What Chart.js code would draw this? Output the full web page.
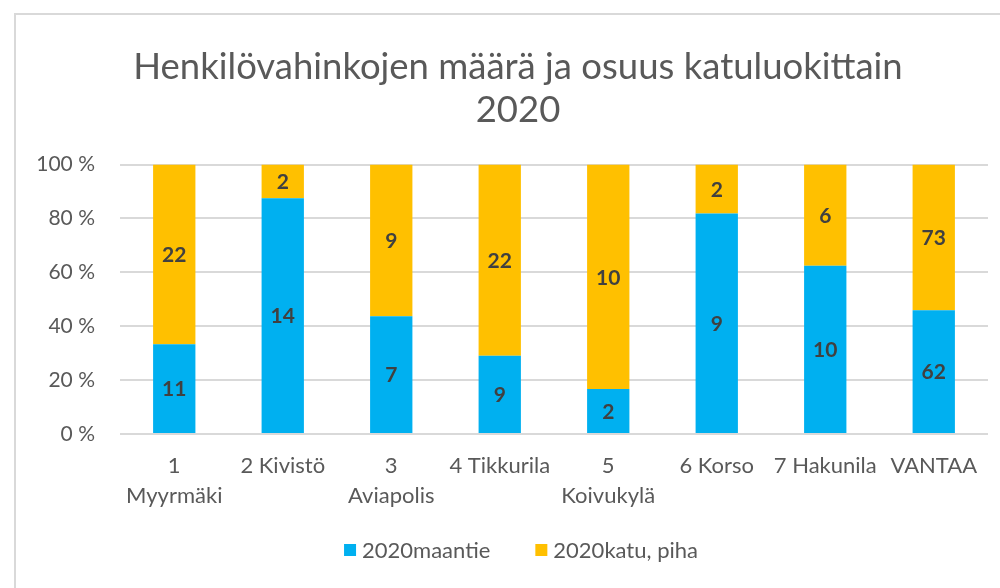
<!DOCTYPE html>
<html>
<head>
<meta charset="utf-8">
<script src="https://cdn.jsdelivr.net/npm/chart.js@4.4.1/dist/chart.umd.min.js"></script>
<style>
html,body{margin:0;padding:0;background:#fff;}
#wrap{width:1000px;height:588px;position:relative;}
</style>
</head>
<body>
<div id="wrap"><canvas id="c" width="1000" height="588"></canvas></div>
<script>
const categories = [['1','Myyrmäki'], '2 Kivistö', ['3','Aviapolis'], '4 Tikkurila', ['5','Koivukylä'], '6 Korso', '7 Hakunila', 'VANTAA'];
const maantie = [11, 14, 7, 9, 2, 9, 10, 62];
const katuPiha = [22, 2, 9, 22, 10, 2, 6, 73];
const seriesNames = ['2020maantie', '2020katu, piha'];
const titleLines = ['Henkilövahinkojen määrä ja osuus katuluokittain', '2020'];
const yTicks = [0, 20, 40, 60, 80, 100];

const totals = maantie.map((v, i) => v + katuPiha[i]);
const shareMaantie = maantie.map((v, i) => v / totals[i] * 100);
const shareKatu = katuPiha.map((v, i) => v / totals[i] * 100);

const FONT = 'Lato, "Open Sans", sans-serif';

const borderPlugin = {
  id: 'frame',
  afterLayout(chart) {
    if (chart.titleBlock) { chart.titleBlock.left = 48; }
  },
  beforeDraw(chart) {
    const ctx = chart.ctx;
    ctx.save();
    ctx.fillStyle = '#fff';
    ctx.fillRect(0, 0, chart.width, chart.height);
    ctx.strokeStyle = '#d9d9d9';
    ctx.lineWidth = 2;
    ctx.beginPath();
    ctx.moveTo(15, chart.height);
    ctx.lineTo(15, 14);
    ctx.lineTo(chart.width, 14);
    ctx.stroke();
    ctx.restore();
  }
};

const labelPlugin = {
  id: 'valueLabels',
  afterDatasetsDraw(chart) {
    const ctx = chart.ctx;
    ctx.save();
    ctx.font = 'bold 21px ' + FONT;
    ctx.fillStyle = '#404040';
    ctx.textAlign = 'center';
    ctx.textBaseline = 'middle';
    chart.data.datasets.forEach((ds, di) => {
      const meta = chart.getDatasetMeta(di);
      meta.data.forEach((el, i) => {
        const p = el.getCenterPoint();
        ctx.fillText(String(ds.counts[i]), p.x, p.y + 1);
      });
    });
    ctx.restore();
  }
};

const legendPlugin = {
  id: 'bottomLegend',
  afterDraw(chart) {
    const ctx = chart.ctx;
    const box = 12, gapText = 6, gapItem = 45, y = 550;
    ctx.save();
    ctx.font = '22px ' + FONT;
    ctx.textBaseline = 'middle';
    ctx.textAlign = 'left';
    const items = chart.data.datasets.map(ds => ({ text: ds.label, color: ds.backgroundColor, w: box + gapText + ctx.measureText(ds.label).width }));
    const total = items.reduce((a, it) => a + it.w, 0) + gapItem * (items.length - 1);
    let x = 521 - total / 2;
    items.forEach(it => {
      ctx.fillStyle = it.color;
      ctx.fillRect(x, y - box / 2, box, box);
      ctx.fillStyle = '#595959';
      ctx.fillText(it.text, x + box + gapText, y + 1);
      x += it.w + gapItem;
    });
    ctx.restore();
  }
};

new Chart(document.getElementById('c'), {
  type: 'bar',
  data: {
    labels: categories,
    datasets: [
      { label: seriesNames[0], data: shareMaantie, counts: maantie, backgroundColor: '#00B0F0', barPercentage: 0.39, categoryPercentage: 1 },
      { label: seriesNames[1], data: shareKatu, counts: katuPiha, backgroundColor: '#FFC000', barPercentage: 0.39, categoryPercentage: 1 }
    ]
  },
  options: {
    responsive: false,
    animation: false,
    devicePixelRatio: 1,
    layout: { padding: { top: 45, left: 20, right: 12, bottom: 60 } },
    plugins: {
      title: {
        display: true,
        text: titleLines,
        color: '#595959',
        font: { family: FONT, size: 36.5, weight: 'normal', lineHeight: 1.2 },
        padding: { top: 0, bottom: 32 }
      },
      legend: { display: false },
      tooltip: { enabled: false }
    },
    scales: {
      x: {
        stacked: true,
        grid: { display: false, drawTicks: false },
        border: { display: false },
        ticks: {
          color: '#595959',
          font: { family: FONT, size: 22, lineHeight: 30 / 22 },
          padding: 17,
          maxRotation: 0,
          autoSkip: false
        }
      },
      y: {
        stacked: true,
        min: 0, max: 100,
        afterFit(s) { s.width = 100; },
        afterBuildTicks(s) { s.ticks = yTicks.map(v => ({ value: v })); },
        grid: { color: '#d9d9d9', lineWidth: 2, drawTicks: false },
        border: { display: false },
        ticks: {
          color: '#595959',
          font: { family: FONT, size: 21 },
          padding: 25,
          callback: v => v + ' %'
        }
      }
    }
  },
  plugins: [borderPlugin, labelPlugin, legendPlugin]
});
</script>
</body>
</html>
